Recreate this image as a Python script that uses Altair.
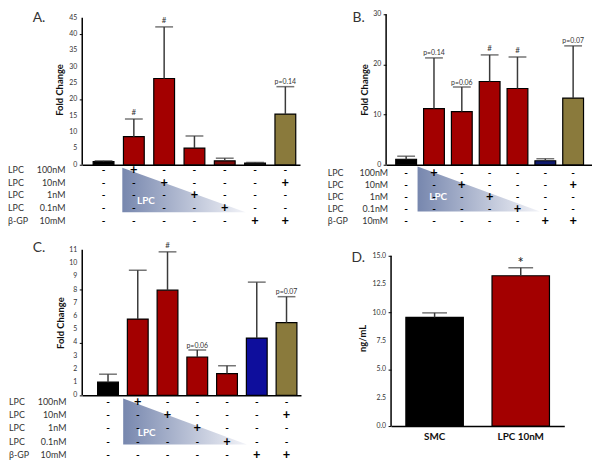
import altair as alt
import pandas as pd

FONT = "Lato"
RED = "#A30000"
MAROON = "#7A0A0A"
BLACK = "#000000"
NEARBLACK = "#111111"
NAVY = "#0F1A6E"
BLUE = "#0E0E9C"
OLIVE = "#8A7A3C"
ERR = "#3a3a3a"

# ---------------- data ----------------
# treatment table shared by panels A, B, C
row_agent = ["LPC", "LPC", "LPC", "LPC", "β-GP"]
row_dose = ["100nM", "10nM", "1nM", "0.1nM", "10mM"]
signs_100nM = ["-", "+", "-", "-", "-", "-", "-"]
signs_10nM = ["-", "-", "+", "-", "-", "-", "+"]
signs_1nM = ["-", "-", "-", "+", "-", "-", "-"]
signs_01nM = ["-", "-", "-", "-", "+", "-", "-"]
signs_bgp = ["-", "-", "-", "-", "-", "+", "+"]
sign_rows = [signs_100nM, signs_10nM, signs_1nM, signs_01nM, signs_bgp]

# Panel A
a_ticks = [0, 5, 10, 15, 20, 25, 30, 35, 40, 45]
a_mean = [1.0, 8.6, 26.4, 5.1, 1.2, 0.5, 15.5]
a_upper = [1.2, 14.0, 42.2, 8.8, 2.0, 0.7, 23.9]
a_note = ["", "#", "#", "", "", "", "p=0.14"]
a_color = [BLACK, RED, RED, RED, MAROON, NEARBLACK, OLIVE]

# Panel B
b_ticks = [0, 10, 20, 30]
b_mean = [1.1, 11.2, 10.6, 16.6, 15.2, 0.8, 13.3]
b_upper = [1.7, 21.3, 15.5, 21.9, 21.5, 1.2, 23.7]
b_note = ["", "p=0.14", "p=0.06", "#", "#", "", "p=0.07"]
b_color = [BLACK, RED, RED, RED, RED, NAVY, OLIVE]

# Panel C
c_ticks = [0, 1, 2, 3, 4, 5, 6, 7, 8, 9, 10, 11]
c_mean = [1.0, 5.77, 7.95, 2.9, 1.65, 4.33, 5.5]
c_upper = [1.6, 9.45, 10.85, 3.43, 2.24, 8.56, 7.46]
c_note = ["", "", "#", "p=0.06", "", "", "p=0.07"]
c_color = [BLACK, RED, RED, RED, RED, BLUE, OLIVE]

# Panel D
d_group = ["SMC", "LPC 10nM"]
d_ticks = [0, 2.5, 5, 7.5, 10, 12.5, 15]
d_mean = [9.57, 13.24]
d_upper = [9.97, 13.95]
d_note = ["", "*"]
d_color = [BLACK, RED]


def y_axis_parts(ticks, ys, title, title_pad, label_x, fmt):
    """hidden-domain axis with ticks + a drawn axis line + tick labels"""
    yax = alt.Axis(values=ticks, title=title, labels=False, domain=False,
                   titlePadding=title_pad)
    tdf = pd.DataFrame({"v": ticks})
    line = alt.Chart(pd.DataFrame({"lo": [ticks[0]], "hi": [ticks[-1]]})).mark_rule(
        color="black", strokeWidth=1.5).encode(
        x=alt.value(0), y=alt.Y("lo:Q", scale=ys), y2="hi:Q")
    labels = alt.Chart(tdf).mark_text(align="right", baseline="middle", fontSize=7,
                                      color="#333", font=FONT).encode(
        x=alt.value(label_x), y=alt.Y("v:Q", scale=ys), text=alt.Text("v:Q", format=fmt))
    return yax, line, labels


def fold_panel(letter, ticks, scale_top, mean, upper, note, color, w, h, xdom, title_pad,
               row_px, agent_x, dose_x, letter_xy, tri_x, tri_rows, lpc_pos):
    n = len(mean)
    df = pd.DataFrame({"pos": list(range(1, n + 1)), "mean": mean,
                       "upper": upper, "note": note, "color": color})
    xs = alt.Scale(domain=xdom, nice=False, zero=False)
    xax = alt.Axis(labels=False, ticks=False, grid=False, title=None,
                   domainColor="black", domainWidth=1.5)
    ys = alt.Scale(domain=[0, scale_top], nice=False, zero=True)
    yax, yline, ylabels = y_axis_parts(ticks, ys, "Fold Change", title_pad, -5, "d")
    base = alt.Chart(df)
    bars = base.mark_bar(size=21, stroke="black", strokeWidth=1.2).encode(
        x=alt.X("pos:Q", scale=xs, axis=xax),
        y=alt.Y("mean:Q", scale=ys, axis=yax),
        fill=alt.Fill("color:N", scale=None),
    )
    err = base.mark_rule(color=ERR, strokeWidth=1.5).encode(
        x=alt.X("pos:Q", scale=xs), y=alt.Y("mean:Q", scale=ys), y2="upper:Q")
    cap = base.mark_tick(color=ERR, thickness=1.5, size=18, orient="horizontal").encode(
        x=alt.X("pos:Q", scale=xs), y=alt.Y("upper:Q", scale=ys))
    hashes = base.transform_filter("datum.note == '#'").mark_text(
        fontSize=8, baseline="bottom", dy=-2, color="#333", font=FONT).encode(
        x=alt.X("pos:Q", scale=xs), y=alt.Y("upper:Q", scale=ys), text="note:N")
    pvals = base.transform_filter("indexof(datum.note, 'p=') == 0").mark_text(
        fontSize=7, baseline="bottom", dy=-1.5, color="#333", font=FONT).encode(
        x=alt.X("pos:Q", scale=xs), y=alt.Y("upper:Q", scale=ys), text="note:N")
    main = alt.layer(bars, err, cap, hashes, pvals, yline, ylabels)

    # treatment table below the axis
    rs = alt.Scale(domain=[0, 4], range=[h + row_px[0], h + row_px[1]], nice=False, zero=False)
    tdf = pd.DataFrame([{"pos": i + 1, "row": r, "sign": s}
                        for r, row in enumerate(sign_rows) for i, s in enumerate(row)])
    tri_df = pd.DataFrame({"tx": tri_x, "ty": [tri_rows[0], tri_rows[1]],
                           "ty2": [tri_rows[1], tri_rows[1]]})
    tri = alt.Chart(tri_df).mark_area(
        color=alt.Gradient(gradient="linear",
                           stops=[alt.GradientStop(color="#7787AE", offset=0),
                                  alt.GradientStop(color="#F2F3F8", offset=1)],
                           x1=0, x2=1, y1=0, y2=0)).encode(
        x=alt.X("tx:Q", scale=xs), y=alt.Y("ty:Q", scale=rs, axis=None), y2="ty2:Q")
    lpc = alt.Chart(pd.DataFrame({"x": [lpc_pos[0]], "row": [lpc_pos[1]], "t": ["LPC"]})).mark_text(
        color="white", fontWeight="bold", fontSize=10, font=FONT).encode(
        x=alt.X("x:Q", scale=xs), y=alt.Y("row:Q", scale=rs, axis=None), text="t:N")
    minus = alt.Chart(tdf).transform_filter("datum.sign == '-'").mark_text(
        fontSize=10, fontWeight="bold", color="#000", font=FONT).encode(
        x=alt.X("pos:Q", scale=xs), y=alt.Y("row:Q", scale=rs, axis=None), text="sign:N")
    plus = alt.Chart(tdf).transform_filter("datum.sign == '+'").mark_text(
        fontSize=13, fontWeight="bold", color="#000", font=FONT).encode(
        x=alt.X("pos:Q", scale=xs), y=alt.Y("row:Q", scale=rs, axis=None), text="sign:N")
    ldf = pd.DataFrame({"row": list(range(5)), "agent": row_agent, "dose": row_dose})
    agent = alt.Chart(ldf).mark_text(align="left", fontSize=9, color="#333", font=FONT).encode(
        x=alt.value(agent_x), y=alt.Y("row:Q", scale=rs, axis=None), text="agent:N")
    dose = alt.Chart(ldf).mark_text(align="right", fontSize=9, color="#333", font=FONT).encode(
        x=alt.value(dose_x), y=alt.Y("row:Q", scale=rs, axis=None), text="dose:N")
    lett = alt.Chart(pd.DataFrame({"t": [letter]})).mark_text(
        align="left", baseline="middle", fontSize=14, color="#333", font=FONT).encode(
        x=alt.value(letter_xy[0]), y=alt.value(letter_xy[1]), text="t:N")
    table = alt.layer(tri, lpc, minus, plus, agent, dose, lett)
    return alt.layer(main, table).resolve_scale(y="independent").properties(width=w, height=h)


A = fold_panel("A.", a_ticks, 46.06, a_mean, a_upper, a_note, a_color, 220, 152,
               [0.46, 7.32], 14, (5, 57), -75, -17, (-50, 3.5), [1.62, 5.69],
               [-0.15, 3.3], (2.4, 2.4))
B = fold_panel("B.", b_ticks, 30, b_mean, b_upper, b_note, b_color, 208, 152,
               [0.458, 7.5], 13, (8, 57), -59, 2, (-34, 4), [1.41, 5.81],
               [-0.5, 3.2], (2.15, 2.0))
C = fold_panel("C.", c_ticks, 11, c_mean, c_upper, c_note, c_color, 221, 147,
               [0.30, 7.32], 13, (6.5, 60.5), -74, -16, (-50, -2), [1.51, 5.67],
               [-0.25, 3.2], (2.3, 2.3))

# Panel D
ddf = pd.DataFrame({"grp": d_group, "mean": d_mean, "upper": d_upper,
                    "note": d_note, "color": d_color})
dxs = alt.Scale(domain=d_group, paddingInner=0.333, paddingOuter=0.172)
dys = alt.Scale(domain=[0, 15.52], nice=False)
dyax, d_line, d_labels = y_axis_parts(d_ticks, dys, "ng/mL", 20, -5, ".1f")
dx_axis = alt.Axis(title=None, labelAngle=0, ticks=False, labelFontWeight="bold",
                   labelFontSize=10, labelColor="#111", labelPadding=6,
                   domainColor="black", domainWidth=1.5, labels=True)
dbase = alt.Chart(ddf)
d_bars = dbase.mark_bar(stroke="black", strokeWidth=1.2).encode(
    x=alt.X("grp:N", scale=dxs, sort=None, axis=dx_axis),
    y=alt.Y("mean:Q", scale=dys, axis=dyax),
    fill=alt.Fill("color:N", scale=None))
d_err = dbase.mark_rule(color=ERR, strokeWidth=1.5).encode(
    x=alt.X("grp:N", scale=dxs, sort=None), y=alt.Y("mean:Q", scale=dys), y2="upper:Q")
d_cap = dbase.mark_tick(color=ERR, thickness=1.5, size=25, orient="horizontal").encode(
    x=alt.X("grp:N", scale=dxs, sort=None), y=alt.Y("upper:Q", scale=dys))
d_star = dbase.mark_text(fontSize=15, baseline="bottom", dy=3, color="#222", font=FONT).encode(
    x=alt.X("grp:N", scale=dxs, sort=None), y=alt.Y("upper:Q", scale=dys), text="note:N")
d_lett = alt.Chart(pd.DataFrame({"t": ["D."]})).mark_text(
    align="left", baseline="middle", fontSize=14, color="#333", font=FONT).encode(
    x=alt.value(-40), y=alt.value(8.5), text="t:N")
D = alt.layer(d_bars, d_err, d_cap, d_star, d_line, d_labels, d_lett).properties(
    width=175, height=178)

top = alt.hconcat(A, B, spacing=28)
bottom = alt.hconcat(C, D, spacing=51)
chart = alt.vconcat(top, bottom, spacing=13).properties(padding=0).configure_view(
    stroke=None
).configure_axis(
    labelFont=FONT, titleFont=FONT, labelFontSize=7, labelColor="#333",
    tickColor="black", tickSize=3, tickWidth=1, domainColor="black", domainWidth=1.5,
    titleFontSize=9.5, titleFontWeight="bold", titleColor="#111",
    grid=False
).configure_text(font=FONT)

chart.save("out.html", embed_options={"renderer": "svg", "actions": False})
